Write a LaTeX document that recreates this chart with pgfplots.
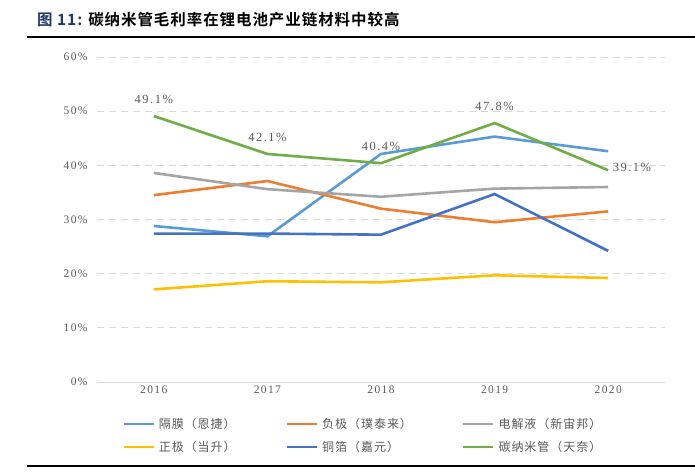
\documentclass[border=0pt]{standalone}
\usepackage{fontspec}
\usepackage{pgfplots}
\pgfplotsset{compat=1.18}
\setmainfont{Liberation Serif}[LetterSpace=12]
\newfontfamily\cjk{Noto Sans CJK SC}[LetterSpace=8]
\newfontfamily\cjkb{Noto Sans CJK SC Bold}[LetterSpace=6]

\definecolor{cGemo}{RGB}{91,155,213}
\definecolor{cFuji}{RGB}{237,125,49}
\definecolor{cDian}{RGB}{165,165,165}
\definecolor{cZheng}{RGB}{255,192,0}
\definecolor{cTong}{RGB}{68,114,196}
\definecolor{cCnt}{RGB}{112,173,71}
\definecolor{titleblue}{RGB}{31,56,100}
\definecolor{txt}{RGB}{89,89,89}
\definecolor{grid}{RGB}{217,217,217}

\begin{document}
\begin{tikzpicture}[x=1pt,y=1pt]
\path[use as bounding box] (0,0) rectangle (695,474);
% title and rules
\node[anchor=base west,inner sep=0pt] at (37,448) {\fontsize{15.5}{17}\selectfont\cjkb\textcolor{titleblue}{图 11:} 碳纳米管毛利率在锂电池产业链材料中较高};
\draw[line width=1.5pt] (27,437) -- (695,437);
\draw[line width=2pt] (27,8) -- (695,8);

\begin{axis}[
  at={(97pt,92pt)}, anchor=south west,
  scale only axis, width=568pt, height=325pt,
  xmin=-0.5, xmax=4.5, ymin=0, ymax=60,
  xtick={0,1,2,3,4},
  xticklabels={2016,2017,2018,2019,2020},
  ytick={0,10,20,30,40,50,60},
  yticklabel={\pgfmathprintnumber{\tick}\%},
  /pgf/number format/assume math mode=true,
  tick style={draw=none},
  ticklabel style={font=\fontsize{11.5}{13}\selectfont, text=txt},
  yticklabel style={xshift=-6pt},
  separate axis lines,
  axis x line*=bottom, axis y line*=left,
  x axis line style={draw=grid, line width=1pt, -},
  y axis line style={draw=none},
  ymajorgrids,
  major grid style={draw=grid, line width=0.8pt, dash pattern=on 7pt off 5pt},
  legend columns=3,
  legend cell align=left,
  legend style={at={(22pt,-32pt)}, anchor=north west, draw=none, fill=none,
    font=\fontsize{12}{14}\selectfont\cjk, text=txt,
    /tikz/every odd column/.append style={column sep=2pt},
    /tikz/every even column/.append style={column sep=48pt},
    row sep=7pt},
  legend image code/.code={\draw[#1] (0pt,0pt) -- (30pt,0pt);},
  every axis plot/.append style={line width=2.6pt, mark=none},
]
\addplot[cGemo] coordinates {(0,28.8) (1,26.9) (2,42.1) (3,45.3) (4,42.6)};
\addlegendentry{隔膜（恩捷）}
\addplot[cFuji] coordinates {(0,34.5) (1,37.1) (2,32.0) (3,29.5) (4,31.5)};
\addlegendentry{负极（璞泰来）}
\addplot[cDian] coordinates {(0,38.6) (1,35.6) (2,34.2) (3,35.7) (4,36.0)};
\addlegendentry{电解液（新宙邦）}
\addplot[cZheng] coordinates {(0,17.1) (1,18.6) (2,18.4) (3,19.7) (4,19.2)};
\addlegendentry{正极（当升）}
\addplot[cTong] coordinates {(0,27.4) (1,27.4) (2,27.2) (3,34.7) (4,24.2)};
\addlegendentry{铜箔（嘉元）}
\addplot[cCnt,
  visualization depends on={value \thisrow{anc} \as \lblanc},
  visualization depends on={\thisrow{dy} \as \lbldy},
  nodes near coords={\pgfmathprintnumber[fixed,precision=1,fixed zerofill]{\pgfplotspointmeta}\%},
  nodes near coords style={font=\fontsize{12.5}{14}\selectfont, text=txt, anchor=\lblanc, yshift=\lbldy pt},
] table[x=x, y=y] {
x y anc dy
0 49.1 south 8
1 42.1 south 8
2 40.4 south 8
3 47.8 south 8
4 39.1 west 3
};
\addlegendentry{碳纳米管（天奈）}
\end{axis}
\end{tikzpicture}
\end{document}
